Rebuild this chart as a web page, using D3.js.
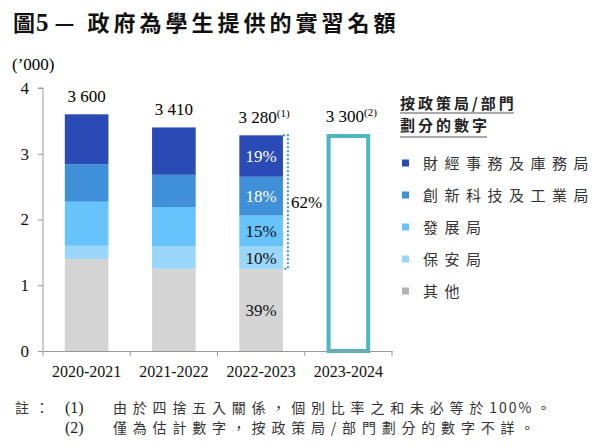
<!DOCTYPE html>
<html>
<head>
<meta charset="utf-8">
<script src="https://cdn.jsdelivr.net/npm/d3@7"></script>
<style>
  body { margin: 0; background: #fff; }
  svg { display: block; }
  .serif { font-family: "Liberation Serif", "DejaVu Serif", serif; }
  .cjk { font-family: "Noto Sans CJK TC", "Noto Sans", sans-serif; }
</style>
</head>
<body>
<div id="chart"></div>
<script>
// values in '000
const years = ['2020-2021', '2021-2022', '2022-2023', '2023-2024'];
const totalLabels = ['3 600', '3 410', '3 280', '3 300'];
const totalNotes = ['', '', '(1)', '(2)'];
const totals = [3.6, 3.41, 3.28, 3.3];

const bureaus = ['財經事務及庫務局', '創新科技及工業局', '發展局', '保安局', '其他'];
// breakdown only known for the first three years
const fstb = [0.76, 0.72, 0.63];
const itb = [0.57, 0.49, 0.59];
const devb = [0.67, 0.60, 0.47];
const secb = [0.20, 0.34, 0.34];
const others = [1.40, 1.25, 1.25];
const shares2223 = ['19%', '18%', '15%', '10%', '39%'];
const bracketLabel = '62%';
const yTicks = [0, 1, 2, 3, 4];

const colors = ['#2a4bb5', '#3f8fd9', '#66c3fc', '#99d6fa', '#d4d4d4'];
const legendColors = ['#2a4bb5', '#3f8fd9', '#66c3fc', '#99d6fa', '#b4b4b4'];

const width = 600, height = 448;
const svg = d3.select('#chart').append('svg')
  .attr('width', width)
  .attr('height', height);

// title
const title = svg.append('text')
  .attr('class', 'cjk')
  .attr('x', 13).attr('y', 31)
  .attr('font-size', 22).attr('font-weight', 'bold')
  .attr('letter-spacing', 4).attr('fill', '#111');
title.append('tspan').attr('letter-spacing', 1).text('圖');
title.append('tspan').attr('class', 'serif').attr('font-size', 25).text('5');
title.append('tspan').attr('dx', 2).text('— 政府為學生提供的實習名額');

svg.append('text')
  .attr('class', 'serif')
  .attr('x', 12).attr('y', 70)
  .attr('font-size', 17)
  .text('(\u2019000)');

const x = d3.scaleBand().domain(years).range([43, 392]).paddingInner(0.5).paddingOuter(0.25);
const y = d3.scaleLinear().domain([0, 4]).range([351, 88]);

// stack
const rows = years.slice(0, 3).map((yr, i) => ({
  year: yr, s0: fstb[i], s1: itb[i], s2: devb[i], s3: secb[i], s4: others[i]
}));
const keys = ['s4', 's3', 's2', 's1', 's0']; // bottom to top
const stacked = d3.stack().keys(keys)(rows);

const g = svg.append('g');
g.selectAll('g.layer')
  .data(stacked)
  .join('g')
  .attr('class', 'layer')
  .attr('fill', d => colors[4 - keys.indexOf(d.key)])
  .selectAll('rect')
  .data(d => d)
  .join('rect')
  .attr('x', d => x(d.data.year))
  .attr('width', x.bandwidth())
  .attr('y', d => y(d[1]))
  .attr('height', d => y(d[0]) - y(d[1]));

// estimated 2023-2024 outline
const last = years[3];
g.append('rect')
  .attr('x', x(last) + 2)
  .attr('width', x.bandwidth() - 4)
  .attr('y', y(totals[3]) + 2)
  .attr('height', y(0) - y(totals[3]) - 2)
  .attr('fill', 'none')
  .attr('stroke', '#4db6c0')
  .attr('stroke-width', 4);

// total labels
years.forEach((yr, i) => {
  const t = svg.append('text')
    .attr('class', 'serif')
    .attr('x', x(yr) + x.bandwidth() / 2 + (totalNotes[i] ? 3 : 0))
    .attr('y', y(totals[i]) - 12)
    .attr('text-anchor', 'middle')
    .attr('font-size', 17)
    .text(totalLabels[i]);
  if (totalNotes[i]) {
    t.append('tspan').attr('font-size', 11).attr('dy', -6).text(totalNotes[i]);
  }
});

// share labels on 2022-2023 bar
const idx = 2;
stacked.forEach(layer => {
  const d = layer[idx];
  const k = 4 - keys.indexOf(layer.key);
  svg.append('text')
    .attr('class', 'serif')
    .attr('x', x(years[idx]) + x.bandwidth() / 2)
    .attr('y', (y(d[0]) + y(d[1])) / 2 + 6)
    .attr('text-anchor', 'middle')
    .attr('font-size', 17)
    .attr('fill', k < 2 ? '#fff' : '#111')
    .text(shares2223[k]);
});

// dotted bracket for the four bureaus
const bx = x(years[idx]) + x.bandwidth() + 5;
const bTop = y(totals[idx]);
const bBot = y(others[idx]);
svg.append('path')
  .attr('d', `M${bx - 5},${bTop}H${bx}V${bBot}H${bx - 5}`)
  .attr('fill', 'none')
  .attr('stroke', '#3d8fe0')
  .attr('stroke-width', 2)
  .attr('stroke-dasharray', '2,2');
svg.append('text')
  .attr('class', 'serif')
  .attr('x', bx + 3).attr('y', (bTop + bBot) / 2 + 6)
  .attr('font-size', 17)
  .text(bracketLabel);

// axes
const yAxis = svg.append('g')
  .attr('transform', `translate(${x.range()[0]},0)`)
  .call(d3.axisLeft(y).tickValues(yTicks).tickFormat(d3.format('d')).tickSize(5).tickPadding(9));
yAxis.attr('font-family', null);
yAxis.select('.domain').attr('stroke', '#999').attr('d', `M-5,${y(4)}H0V${y(0)}`);
yAxis.selectAll('.tick line').attr('stroke', '#999');
yAxis.selectAll('.tick text').attr('class', 'serif').attr('font-size', 17).attr('fill', '#111');

const xAxis = svg.append('g')
  .attr('transform', `translate(0,${y(0)})`)
  .call(d3.axisBottom(x).tickSize(0).tickPadding(15));
xAxis.attr('font-family', null);
xAxis.select('.domain').attr('stroke', '#999');
xAxis.selectAll('.tick text').attr('class', 'serif').attr('font-size', 16).attr('fill', '#111');
const step = x.step();
const x0 = x(years[0]) - x.paddingOuter() * step;
xAxis.selectAll('line.bound')
  .data(d3.range(years.length + 1))
  .join('line')
  .attr('class', 'bound')
  .attr('x1', i => x0 + i * step).attr('x2', i => x0 + i * step)
  .attr('y1', 0).attr('y2', 5)
  .attr('stroke', '#999');

// legend
const lg = svg.append('g').attr('class', 'cjk').attr('fill', '#222');
const legendTitle = ['按政策局/部門', '劃分的數字'];
legendTitle.forEach((t, i) => {
  const tx = lg.append('text')
    .attr('x', 400).attr('y', 109 + i * 22)
    .attr('font-size', 15).attr('font-weight', 'bold').attr('letter-spacing', 3)
    .text(t);
  const w = tx.node().getComputedTextLength() - 3;
  lg.append('line')
    .attr('x1', 400).attr('x2', 400 + w)
    .attr('y1', 113 + i * 24).attr('y2', 113 + i * 24)
    .attr('stroke', '#555').attr('stroke-width', 1.2);
});
bureaus.forEach((b, i) => {
  const cy = 163 + i * 32;
  lg.append('rect')
    .attr('x', 402).attr('y', cy - 3.5)
    .attr('width', 7).attr('height', 7)
    .attr('fill', legendColors[i]);
  lg.append('text')
    .attr('x', 423).attr('y', cy + 5.5)
    .attr('font-size', 15).attr('letter-spacing', 6.5).attr('fill', '#333')
    .text(b);
});

// footnotes
const notes = [
  ['註：', '(1)', '由於四捨五入關係，個別比率之和未必等於', '100%', '。'],
  ['', '(2)', '僅為估計數字，按政策局/部門劃分的數字不詳。', '', '']
];
notes.forEach((n, i) => {
  const yy = 413 + i * 20;
  svg.append('text').attr('class', 'cjk').attr('x', 15).attr('y', yy)
    .attr('font-size', 14).attr('letter-spacing', 6).attr('fill', '#333')
    .text(n[0]);
  svg.append('text').attr('class', 'serif').attr('x', 65).attr('y', yy)
    .attr('font-size', 16).attr('fill', '#222')
    .text(n[1]);
  const t = svg.append('text').attr('class', 'cjk').attr('x', 113).attr('y', yy)
    .attr('font-size', 14).attr('letter-spacing', 5.8).attr('fill', '#333');
  t.append('tspan').text(n[2]);
  if (n[3]) {
    t.append('tspan').attr('letter-spacing', 2).text(n[3]);
    t.append('tspan').attr('dx', 3).text(n[4]);
  }
});
</script>
</body>
</html>
